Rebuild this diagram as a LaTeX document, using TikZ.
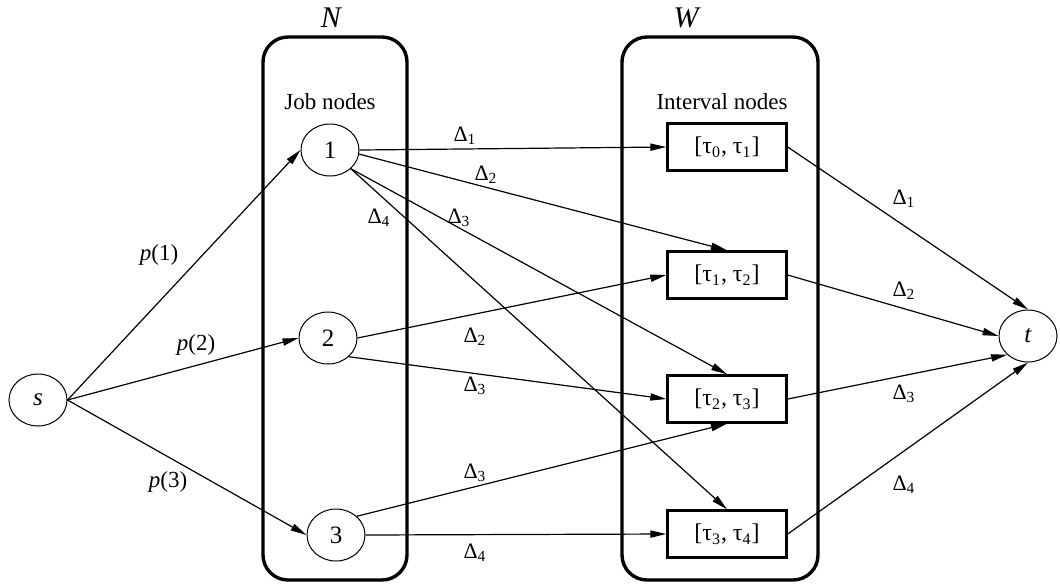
\documentclass[tikz,border=0pt]{standalone}
\usepackage{fontspec}
\setmainfont{Liberation Serif}
\usetikzlibrary{arrows.meta,shapes.geometric}
\newcommand\dl[1]{Δ\textsubscript{#1}}
\newcommand\tu[1]{τ\textsubscript{#1}}
\begin{document}
\begin{tikzpicture}[x=0.5pt,y=-0.5pt,
  font=\fontsize{11.5}{13}\selectfont,
  vertex/.style={draw,ellipse,line width=0.5pt,minimum width=29pt,minimum height=26pt,inner sep=0pt,font=\fontsize{12.5}{14}\selectfont},
  interval/.style={draw,rectangle,line width=1.2pt,minimum width=59.5pt,minimum height=23.5pt,inner sep=0pt,font=\fontsize{12}{14}\selectfont},
  groupbox/.style={draw,rectangle,line width=1.7pt,rounded corners=12.5pt,minimum height=271.5pt,inner sep=0pt},
  arc/.style={-{Triangle[length=8pt,width=3.6pt]},line width=0.6pt},
  wt/.style={font=\fontsize{11}{12}\selectfont,inner sep=0pt},
  pl/.style={font=\fontsize{11.5}{13}\selectfont,inner sep=0pt},
  setlabel/.style={font=\fontsize{15}{17}\selectfont\itshape,inner sep=0pt}
]
\useasboundingbox (0,0) rectangle (1060,585);

% the two vertex sets
\node[groupbox,minimum width=72pt] (setN) at (335,308.5) {};
\node[groupbox,minimum width=98pt] (setW) at (720,308.5) {};
\node[setlabel] (lblN) at (331,18) {N};
\node[setlabel] (lblW) at (686,18) {W};
\node (jobs) at (330,102) {Job nodes};
\node (ivals) at (722,102) {Interval nodes};

% source, sink, job and interval vertices
\node[vertex] (s) at (38,400) {\textit{s}};
\node[vertex] (t) at (1028,336) {\textit{t}};
\node[vertex] (j1) at (330,150) {1};
\node[vertex] (j2) at (328,338) {2};
\node[vertex] (j3) at (336,535) {3};
\node[interval] (i1) at (727,147) {[\tu{0}, \tu{1}]};
\node[interval] (i2) at (727,275) {[\tu{1}, \tu{2}]};
\node[interval] (i3) at (727,399) {[\tu{2}, \tu{3}]};
\node[interval] (i4) at (727,534) {[\tu{3}, \tu{4}]};

% source arcs
\draw[arc] (s.east) -- (j1.west);
\draw[arc] (s.east) -- (j2.west);
\draw[arc] (s.east) -- (j3.west);

% job to interval arcs
\draw[arc] (j1.east) -- (i1.west);
\draw[arc] (j1.-8) -- (i2.north);
\draw[arc] (j1.south east) -- (i3.north);
\draw[arc] (j1.south east) -- (i4.north);
\draw[arc] (j2.east) -- (i2.west);
\draw[arc] (j2.south east) -- (i3.west);
\draw[arc] (j3.north east) -- (i3.south);
\draw[arc] (j3.east) -- (i4.west);

% interval to sink arcs
\draw[arc] (i1.east) -- (t.north);
\draw[arc] (i2.east) -- (t.west);
\draw[arc] (i3.east) -- (t.south west);
\draw[arc] (i4.east) -- (t.south);

% capacities
\node[pl] (p1) at (159,255) {\textit{p}(1)};
\node[pl] (p2) at (196,345) {\textit{p}(2)};
\node[pl] (p3) at (168,482) {\textit{p}(3)};

\node[wt] (w11) at (465,136) {\dl{1}};
\node[wt] (w12) at (486,175) {\dl{2}};
\node[wt] (w13) at (459,218) {\dl{3}};
\node[wt] (w14) at (379,218) {\dl{4}};
\node[wt] (w22) at (475,337) {\dl{2}};
\node[wt] (w23) at (475,386) {\dl{3}};
\node[wt] (w33) at (475,473) {\dl{3}};
\node[wt] (w34) at (475,553) {\dl{4}};

\node[wt] (wt1) at (904,199) {\dl{1}};
\node[wt] (wt2) at (904,291) {\dl{2}};
\node[wt] (wt3) at (904,394) {\dl{3}};
\node[wt] (wt4) at (904,485) {\dl{4}};
\end{tikzpicture}
\end{document}
